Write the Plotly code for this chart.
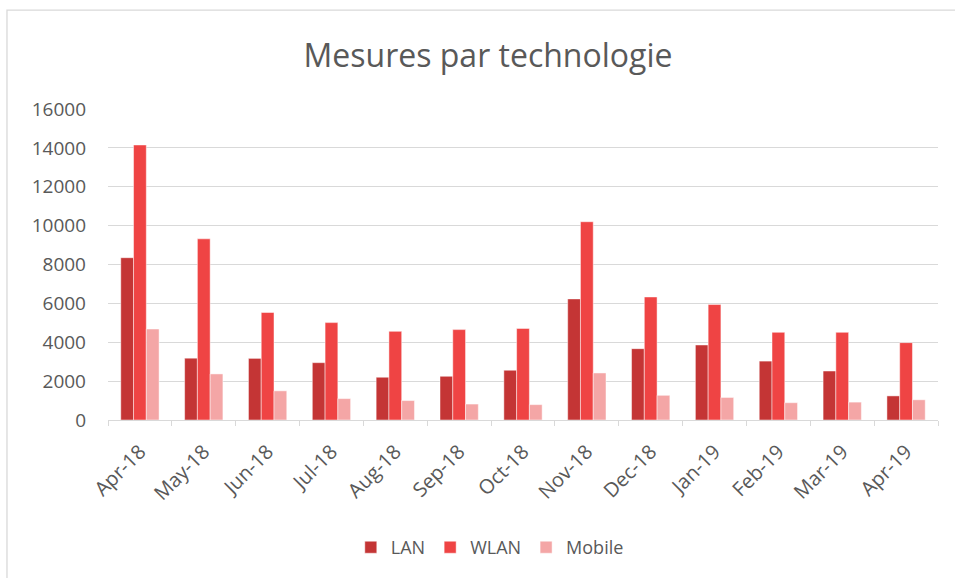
import plotly.graph_objects as go

# Monthly measures per technology
months = ["Apr-18", "May-18", "Jun-18", "Jul-18", "Aug-18", "Sep-18", "Oct-18",
          "Nov-18", "Dec-18", "Jan-19", "Feb-19", "Mar-19", "Apr-19"]
lan = [8350, 3180, 3170, 2950, 2200, 2250, 2560, 6230, 3670, 3860, 3030, 2520, 1240]
wlan = [14150, 9320, 5530, 5010, 4560, 4650, 4710, 10200, 6330, 5940, 4510, 4510, 3980]
mobile = [4680, 2370, 1500, 1100, 1000, 820, 790, 2420, 1270, 1160, 890, 920, 1040]

series = [("LAN", lan, "#C43535"), ("WLAN", wlan, "#EF4444"), ("Mobile", mobile, "#F4A6A6")]

fig = go.Figure()
for name, vals, col in series:
    fig.add_trace(go.Bar(
        name=name, x=months, y=vals,
        marker=dict(color=col, line=dict(color="rgba(255,255,255,0.6)", width=0.8)),
    ))

font = "Open Sans, Noto Sans, sans-serif"
grey = "#595959"

fig.update_layout(
    width=955, height=578,
    margin=dict(l=108, r=17, t=109, b=158),
    paper_bgcolor="white", plot_bgcolor="white",
    barmode="group", bargap=0.4, bargroupgap=0,
    font=dict(family=font, color=grey, size=17),
    title=dict(text="Mesures par technologie", x=0.511, xanchor="center",
               y=0.903, yanchor="middle", font=dict(size=32, color=grey)),
    legend=dict(orientation="h", x=0.46, xanchor="center", y=-0.41, yanchor="middle",
                font=dict(size=18, color=grey), itemwidth=30, traceorder="normal"),
    showlegend=True,
)
fig.update_yaxes(range=[0, 16000], dtick=2000, tickformat="d", showgrid=True,
                 gridcolor="#D9D9D9", gridwidth=1.3, zeroline=False, showline=False,
                 ticks="", tickfont=dict(size=19, color=grey), ticklabelstandoff=21)
fig.update_xaxes(showline=True, linecolor="#D9D9D9", linewidth=1.3,
                 ticks="outside", tickson="boundaries", ticklen=5, tickcolor="#D9D9D9",
                 tickwidth=1.3, tickangle=-45, tickfont=dict(size=20, color=grey),
                 ticklabelstandoff=11)

# outer chart border
fig.add_shape(type="rect", xref="paper", yref="paper",
              x0=-0.1217, x1=1.2, y0=-0.7, y1=1.318,
              line=dict(color="#D9D9D9", width=1.3), fillcolor="rgba(0,0,0,0)", layer="below")

# drop the default 8px body margin so the figure fills the window exactly
fig.write_html("out.html", config={"displayModeBar": False},
               post_script="document.body.style.margin='0';")
